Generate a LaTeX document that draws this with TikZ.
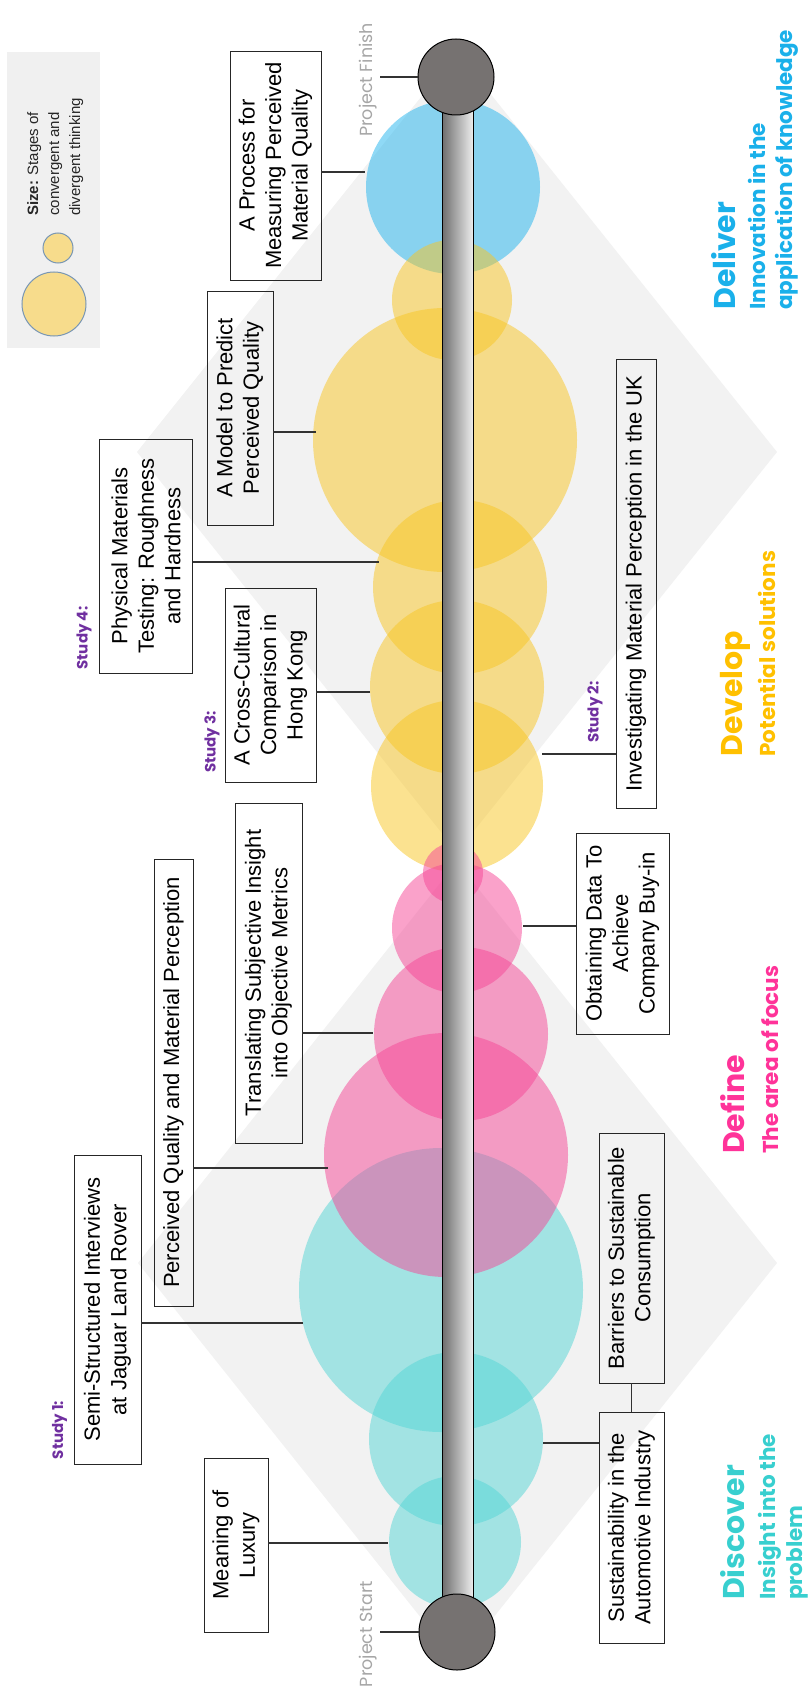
\documentclass[tikz,border=0pt]{standalone}
\usepackage{fontspec}
\setmainfont{Liberation Sans}
\newfontfamily\geofont{Poppins}
\usetikzlibrary{shapes.geometric}

\definecolor{diamondgray}{RGB}{242,242,242}
\definecolor{legendgray}{RGB}{240,240,240}
\definecolor{legendfill}{RGB}{247,220,140}
\definecolor{legendedge}{RGB}{120,150,180}
\definecolor{cyanC}{RGB}{84,214,214}
\definecolor{pinkC}{RGB}{245,70,150}
\definecolor{yellowC}{RGB}{248,198,34}
\definecolor{blueC}{RGB}{32,180,238}
\definecolor{endgray}{RGB}{118,114,113}
\definecolor{barL}{RGB}{110,110,110}
\definecolor{barR}{RGB}{236,236,236}
\definecolor{deliverC}{RGB}{26,176,234}
\definecolor{developC}{RGB}{255,192,0}
\definecolor{defineC}{RGB}{255,51,153}
\definecolor{discoverC}{RGB}{56,207,207}
\definecolor{studyC}{RGB}{112,48,160}
\definecolor{projC}{RGB}{166,166,166}
\definecolor{connC}{RGB}{50,50,50}

\begin{document}
\begin{tikzpicture}[x=1pt,y=-1pt,
  bubble/.style={circle, inner sep=0, draw=none, fill opacity=0.5},
  box/.style={draw=black!85, line width=0.9, rotate=90, align=center, inner sep=0,
    font=\fontsize{22}{26.5}\selectfont},
  conn/.style={draw=connC, line width=1.1},
  study/.style={rotate=90, inner sep=0, text=studyC, font=\geofont\bfseries\fontsize{15}{18}\selectfont},
  projlabel/.style={rotate=90, inner sep=3, text=projC, font=\geofont\fontsize{17.5}{20}\selectfont},
  phasetitle/.style={rotate=90, anchor=north west, inner sep=0, font=\geofont\bfseries\fontsize{30}{34}\selectfont},
  phasesub/.style={rotate=90, anchor=north west, inner sep=0, align=left, font=\geofont\bfseries\fontsize{21.5}{27}\selectfont},
  endcap/.style={circle, draw=black, line width=1, fill=endgray, minimum size=76, inner sep=0}
]
\useasboundingbox (0,0) rectangle (809,1688);

% the two diamonds of the process
\fill[diamondgray] (457,52) -- (777,452) -- (457,852) -- (137,452) -- cycle;
\fill[diamondgray] (457,862) -- (777,1263) -- (457,1663) -- (138,1263) -- cycle;

% legend
\fill[legendgray] (7,52) rectangle (100,348);
\node[circle, draw=legendedge, line width=1, fill=legendfill, minimum size=64, inner sep=0] (lgbig) at (54,304) {};
\node[circle, draw=legendedge, line width=1, fill=legendfill, minimum size=30, inner sep=0] (lgsmall) at (58,248) {};
\node[rotate=90, anchor=north west, align=left, inner sep=0, text=black!85,
  font=\fontsize{15}{21}\selectfont] (lgtext) at (27,216)
  {\textbf{Size:} Stages of\\convergent and\\divergent thinking};

% stage bubbles
\node[bubble, fill=blueC, minimum size=174] (d1) at (453,187) {};
\node[bubble, fill=yellowC, minimum size=120] (y0) at (452,300) {};
\node[bubble, fill=yellowC, minimum size=264] (ybig) at (445,440) {};
\node[bubble, fill=yellowC, minimum size=174] (y1) at (460,587) {};
\node[bubble, fill=yellowC, minimum size=174] (y2) at (457,687) {};
\node[bubble, fill=yellowC, minimum size=172] (y3) at (457,786) {};
\node[bubble, fill=cyanC, minimum size=284] (c1) at (441,1290) {};
\node[bubble, fill=cyanC, minimum size=174] (c2) at (456,1439) {};
\node[bubble, fill=cyanC, minimum size=132] (c3) at (455,1542) {};
\node[bubble, fill=pinkC, minimum size=60] (p0) at (453,873) {};
\node[bubble, fill=pinkC, minimum size=130] (p1) at (457,928) {};
\node[bubble, fill=pinkC, minimum size=174] (p2) at (461,1034) {};
\node[bubble, fill=pinkC, minimum size=244] (p3) at (446,1155) {};

% timeline bar and its end caps
\node[draw=black, line width=1, left color=barL, right color=barR,
  minimum width=31, minimum height=1500, inner sep=0] (bar) at (457.5,855) {};
\node[endcap] (finish) at (456,77) {};
\node[endcap] (start) at (457,1632) {};
\node[projlabel] (finishtext) at (368,80) {Project Finish};
\node[projlabel] (starttext) at (368,1634) {Project Start};
\draw[conn] (finish.west) -- (finish.west -| finishtext.south);
\draw[conn] (start.west) -- (start.west -| starttext.south);

% activity boxes
\node[box, minimum width=229, minimum height=91] (process) at (275.5,165.5) {A Process for\\Measuring Perceived\\Material Quality};
\node[box, minimum width=234, minimum height=66] (model) at (240,408) {A Model to Predict\\Perceived Quality};
\node[box, minimum width=449, minimum height=40] (investigating) at (636,583.5) {Investigating Material Perception in the UK};
\node[box, minimum width=234, minimum height=93] (physical) at (146,556) {Physical Materials\\Testing: Roughness\\and Hardness};
\node[box, minimum width=194, minimum height=91] (crosscult) at (270.5,685) {A Cross-Cultural\\Comparison in\\Hong Kong};
\node[box, minimum width=340, minimum height=67] (translating) at (268.5,973) {Translating Subjective Insight\\into Objective Metrics};
\node[box, minimum width=201, minimum height=93] (obtaining) at (622.5,933.5) {Obtaining Data To\\Achieve\\Company Buy-in};
\node[box, minimum width=447, minimum height=39] (perceived) at (173.5,1082.5) {Perceived Quality and Material Perception};
\node[box, minimum width=250, minimum height=65] (barriers) at (631.5,1258) {Barriers to Sustainable\\Consumption};
\node[box, minimum width=309, minimum height=67] (semi) at (107.5,1309.5) {Semi-Structured Interviews\\at Jaguar Land Rover};
\node[box, minimum width=174, minimum height=64] (luxury) at (236,1545) {Meaning of\\Luxury};
\node[box, minimum width=231, minimum height=65] (sustain) at (631.5,1527.5) {Sustainability in the\\Automotive Industry};

% points where the leader lines meet the bubbles
\coordinate (kprocess) at (365,172);
\coordinate (kmodel) at (316,432);
\coordinate (kinvest) at (542,754);
\coordinate (kphysical) at (379,562);
\coordinate (kcross) at (370,692);
\coordinate (ktrans) at (373,1033);
\coordinate (kobtain) at (523,926);
\coordinate (kperceived) at (328,1168);
\coordinate (ksemi) at (303,1323);
\coordinate (kluxury) at (388,1543);
\coordinate (ksustain) at (543,1443);

% leader lines
\draw[conn] (process.south |- kprocess) -- (kprocess);
\draw[conn] (model.south |- kmodel) -- (kmodel);
\draw[conn] (investigating.north |- kinvest) -- (kinvest);
\draw[conn] (physical.south |- kphysical) -- (kphysical);
\draw[conn] (crosscult.south |- kcross) -- (kcross);
\draw[conn] (translating.south |- ktrans) -- (ktrans);
\draw[conn] (obtaining.north |- kobtain) -- (kobtain);
\draw[conn] (perceived.south |- kperceived) -- (kperceived);
\draw[conn] (semi.south |- ksemi) -- (ksemi);
\draw[conn] (luxury.south |- kluxury) -- (kluxury);
\draw[conn] (sustain.north |- ksustain) -- (ksustain);
\draw[conn] (barriers.west) -- (sustain.east);

% study labels
\node[study] (study4) at (84,638) {Study 4:};
\node[study] (study3) at (212,742) {Study 3:};
\node[study] (study2) at (595,712) {Study 2:};
\node[study] (study1) at (59.5,1430) {Study 1:};

% phase headings
\node[phasetitle, text=deliverC] (deliver) at (711,310) {Deliver};
\node[phasesub, text=deliverC] (deliversub) at (748,310) {Innovation in the\\application of knowledge};
\node[phasetitle, text=developC] (develop) at (720,757) {Develop};
\node[phasesub, text=developC] (developsub) at (758,757) {Potential solutions};
\node[phasetitle, text=defineC] (define) at (720,1154) {Define};
\node[phasesub, text=defineC] (definesub) at (761,1154) {The area of focus};
\node[phasetitle, text=discoverC] (discover) at (720,1600) {Discover};
\node[phasesub, text=discoverC] (discoversub) at (758,1600) {Insight into the\\problem};
\end{tikzpicture}
\end{document}
